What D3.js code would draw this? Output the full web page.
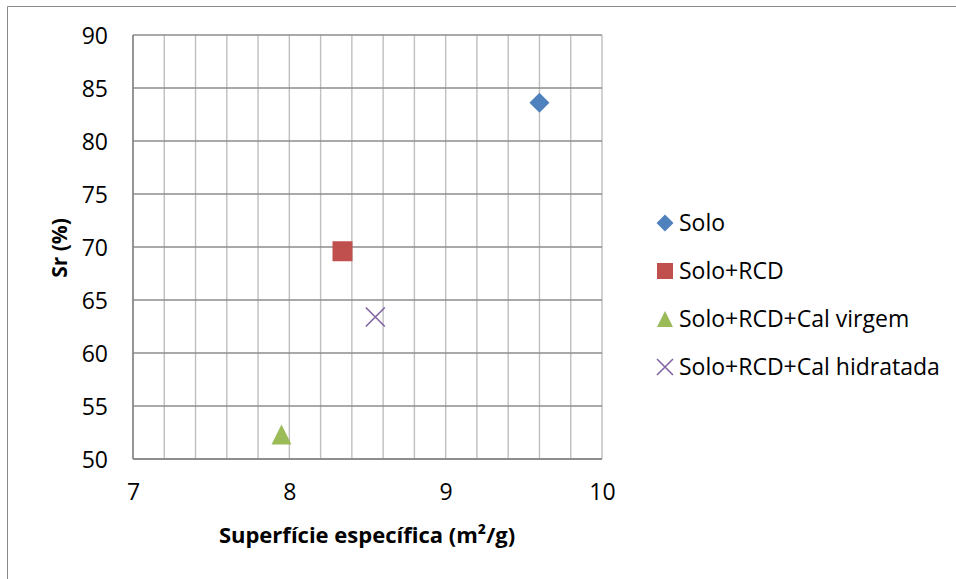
<!DOCTYPE html>
<html>
<head>
<meta charset="utf-8">
<script src="https://cdn.jsdelivr.net/npm/d3@7"></script>
<style>
  html, body { margin: 0; padding: 0; background: #fff; }
  svg { display: block; }
  text { font-family: "Open Sans", "Noto Sans", sans-serif; fill: #000; }
</style>
</head>
<body>
<svg id="chart" width="956" height="579"></svg>
<script>
// Series: specific surface (m²/g) vs degree of saturation Sr (%)
const seriesNames = ["Solo", "Solo+RCD", "Solo+RCD+Cal virgem", "Solo+RCD+Cal hidratada"];
const surfaceValues = [9.60, 8.34, 7.95, 8.55];
const srValues = [83.6, 69.6, 52.3, 63.4];
const xTicks = [7, 8, 9, 10];
const yTicks = [50, 55, 60, 65, 70, 75, 80, 85, 90];
const xMinorGrid = d3.range(0, 16).map(i => 7 + i * 0.2);

const colors = ["#4F81BD", "#C0504D", "#9BBB59", "#8064A2"];
const shapes = ["diamond", "square", "triangle", "times"];

const svg = d3.select("#chart");

// outer chart frame
svg.append("path")
  .attr("d", "M7.5,579 V6.5 H956")
  .attr("fill", "none")
  .attr("stroke", "#898989")
  .attr("stroke-width", 1);

const x = d3.scaleLinear().domain([7, 10]).range([133, 602]);
const y = d3.scaleLinear().domain([50, 90]).range([459, 35]);

// vertical gridlines every 0.2
svg.append("g")
  .selectAll("line")
  .data(xMinorGrid)
  .join("line")
  .attr("x1", d => x(d)).attr("x2", d => x(d))
  .attr("y1", y(50)).attr("y2", y(90))
  .attr("stroke", "#bfbfbf")
  .attr("stroke-width", 1.4);

// horizontal gridlines at each y tick
svg.append("g")
  .selectAll("line")
  .data(yTicks)
  .join("line")
  .attr("x1", x(7)).attr("x2", x(10))
  .attr("y1", d => y(d)).attr("y2", d => y(d))
  .attr("stroke", "#8c8c8c")
  .attr("stroke-width", 1.4);

// axis lines
svg.append("line")
  .attr("x1", x(7)).attr("x2", x(7)).attr("y1", y(50)).attr("y2", y(90))
  .attr("stroke", "#868686").attr("stroke-width", 1.6);
svg.append("line")
  .attr("x1", x(7)).attr("x2", x(10)).attr("y1", y(50)).attr("y2", y(50))
  .attr("stroke", "#868686").attr("stroke-width", 1.6);

// tick labels
const yAxis = svg.append("g")
  .attr("transform", `translate(${x(7)},0)`)
  .call(d3.axisLeft(y).tickValues(yTicks).tickSize(0).tickPadding(25).tickFormat(d3.format("d")));
yAxis.select(".domain").remove();
yAxis.selectAll("text").style("font-size", "23px").attr("font-family", null).attr("dy", "0.36em");

const xAxis = svg.append("g")
  .attr("transform", `translate(0,${y(50)})`)
  .call(d3.axisBottom(x).tickValues(xTicks).tickSize(0).tickPadding(25).tickFormat(d3.format("d")));
xAxis.select(".domain").remove();
xAxis.selectAll("text").style("font-size", "23px").attr("font-family", null);

// axis titles
svg.append("text")
  .attr("x", 367).attr("y", 543)
  .attr("text-anchor", "middle")
  .style("font-size", "22px").style("font-weight", "bold")
  .text("Superfície específica (m²/g)");

svg.append("text")
  .attr("transform", "translate(67,248) rotate(-90)")
  .attr("text-anchor", "middle")
  .style("font-size", "21px").style("font-weight", "bold")
  .text("Sr (%)");

// marker shapes
const triangleShape = {
  draw(ctx, size) {
    const h = Math.sqrt(size);
    ctx.moveTo(0, -h / 2);
    ctx.lineTo(h / 2, h / 2);
    ctx.lineTo(-h / 2, h / 2);
    ctx.closePath();
  }
};
const timesShape = {
  draw(ctx, size) {
    const r = Math.sqrt(size) / 2;
    ctx.moveTo(-r, -r); ctx.lineTo(r, r);
    ctx.moveTo(r, -r); ctx.lineTo(-r, r);
  }
};

function markerPath(shape, w) {
  if (shape === "diamond") return d3.symbol(d3.symbolSquare, (w / Math.SQRT2) ** 2)();
  if (shape === "square") return d3.symbol(d3.symbolSquare, w * w)();
  if (shape === "triangle") return d3.symbol(triangleShape, w * w)();
  return d3.symbol(timesShape, w * w)();
}

function drawMarker(g, i, w) {
  const shape = shapes[i];
  const p = g.append("path").attr("d", markerPath(shape, w));
  if (shape === "diamond") p.attr("transform", "rotate(45)");
  if (shape === "times") {
    p.attr("fill", "none").attr("stroke", colors[i]).attr("stroke-width", 1.6);
  } else {
    p.attr("fill", colors[i]);
  }
}

// data points
seriesNames.forEach((name, i) => {
  const g = svg.append("g")
    .attr("transform", `translate(${x(surfaceValues[i])},${y(srValues[i])})`);
  drawMarker(g, i, shapes[i] === "times" ? 19 : 20);
});

// legend
const legend = svg.append("g");
seriesNames.forEach((name, i) => {
  const row = legend.append("g").attr("transform", `translate(665,${223 + i * 48})`);
  drawMarker(row, i, shapes[i] === "diamond" ? 17 : 16);
  row.append("text")
    .attr("x", 14).attr("y", 0).attr("dy", "0.36em")
    .style("font-size", "23px")
    .text(name);
});
</script>
</body>
</html>
